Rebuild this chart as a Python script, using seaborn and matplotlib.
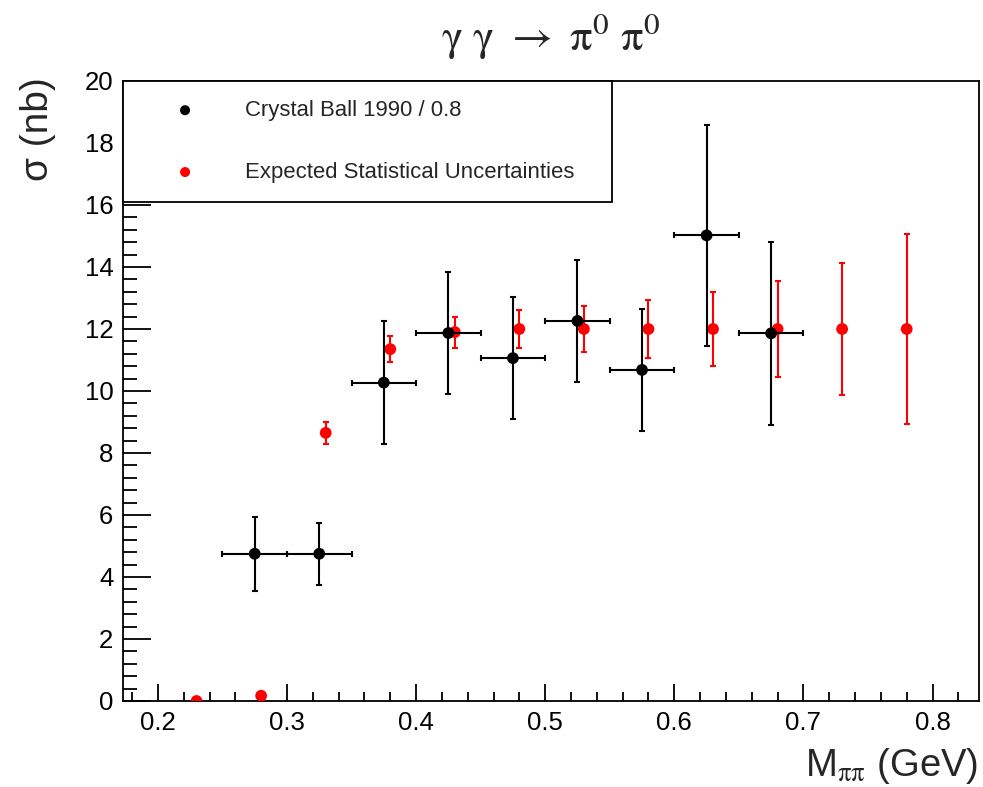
import matplotlib
matplotlib.use('Agg')
import matplotlib.pyplot as plt
from matplotlib.ticker import MultipleLocator
import seaborn as sns
import pandas as pd

# Crystal Ball 1990 (scaled by 1/0.8)
cb_x = [0.275, 0.325, 0.375, 0.425, 0.475, 0.525, 0.575, 0.625, 0.675]
cb_y = [4.75, 4.75, 10.27, 11.87, 11.06, 12.26, 10.68, 15.02, 11.86]
cb_yerr = [1.2, 1.0, 1.98, 1.98, 1.97, 1.97, 1.98, 3.57, 2.96]
cb_xerr = [0.025] * len(cb_x)

# expected statistical uncertainties
ex_x = [0.23, 0.28, 0.33, 0.38, 0.43, 0.48, 0.53, 0.58, 0.63, 0.68, 0.73, 0.78]
ex_y = [0.0, 0.17, 8.65, 11.35, 11.9, 12.0, 12.0, 12.0, 12.0, 12.0, 12.0, 12.0]
ex_yerr = [0.0, 0.0, 0.35, 0.42, 0.5, 0.6, 0.75, 0.94, 1.19, 1.55, 2.13, 3.08]

cb = pd.DataFrame({'x': cb_x, 'y': cb_y})
ex = pd.DataFrame({'x': ex_x, 'y': ex_y})

sns.set_theme(style='ticks')
plt.rcParams['font.family'] = ['Liberation Sans', 'DejaVu Sans']
plt.rcParams['mathtext.fontset'] = 'stix'

fig = plt.figure(figsize=(9.83, 7.87), dpi=100)
ax = fig.add_axes([123 / 983, 1 - 701 / 787, 856 / 983, 620 / 787])

ax.errorbar(ex_x, ex_y, yerr=ex_yerr, fmt='none', ecolor='#ff0000',
            elinewidth=1.5, capsize=2.5, capthick=1.5, zorder=2)
sns.scatterplot(data=ex, x='x', y='y', color='#ff0000', s=72, edgecolor='none',
                label='Expected Statistical Uncertainties', ax=ax, zorder=3)
ax.errorbar(cb_x, cb_y, xerr=cb_xerr, yerr=cb_yerr, fmt='none', ecolor='black',
            elinewidth=1.5, capsize=2.5, capthick=1.5, zorder=4)
sns.scatterplot(data=cb, x='x', y='y', color='black', s=72, edgecolor='none',
                label='Crystal Ball 1990 / 0.8', ax=ax, zorder=5)

ax.set_xlim(0.173, 0.836)
ax.set_ylim(0, 20)

ax.xaxis.set_major_locator(MultipleLocator(0.1))
ax.xaxis.set_minor_locator(MultipleLocator(0.02))
ax.yaxis.set_major_locator(MultipleLocator(2))
ax.yaxis.set_minor_locator(MultipleLocator(0.4))
ax.tick_params(axis='both', which='both', direction='in', colors='black',
               labelsize=18.5, width=1.3)
ax.tick_params(axis='x', which='major', length=12, pad=7)
ax.tick_params(axis='x', which='minor', length=6.5)
ax.tick_params(axis='y', which='major', length=20, pad=7)
ax.tick_params(axis='y', which='minor', length=10)
for s in ax.spines.values():
    s.set_linewidth(1.3)
    s.set_color('black')

ax.set_xlabel(r'M$_{\mathrm{\pi\pi}}$ (GeV)', fontsize=27.5, loc='right')
ax.xaxis.set_label_coords(0.999, -0.072)
ax.set_ylabel('σ (nb)', fontsize=28, loc='top')
ax.yaxis.set_label_coords(-0.078, 1.006)

ax.set_title(r'$\mathrm{\gamma\ \gamma\ \rightarrow\ \pi^{0}\ \pi^{0}}$', fontsize=32, pad=22)

h, l = ax.get_legend_handles_labels()
leg = ax.legend(h[::-1], l[::-1], loc='upper left', bbox_to_anchor=(0, 0, 0.571, 1.0),
                mode='expand', borderaxespad=0, fontsize=15.9, fancybox=False,
                edgecolor='black', framealpha=1, labelspacing=1.85, borderpad=0.86,
                handlelength=3.9, handletextpad=0.77, markerscale=0.85)
leg.get_frame().set_linewidth(1.3)
leg.set_zorder(10)

fig.savefig('out.png', dpi=100)
